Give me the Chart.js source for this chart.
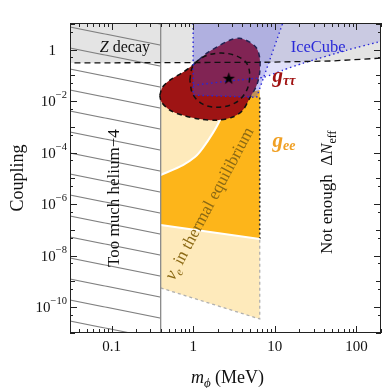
<!DOCTYPE html>
<html>
<head>
<meta charset="utf-8">
<script src="https://cdn.jsdelivr.net/npm/chart.js@4.4.0/dist/chart.umd.min.js"></script>
<style>
  html, body { margin: 0; padding: 0; background: #fff; }
  #grafica { display: block; }
</style>
</head>
<body>
<canvas id="grafica" width="390" height="388"></canvas>
<script>
// rangos de los ejes
const xRange = [0.031, 200];
const yRange = [1e-11, 10.7];

const xTickLabels = [0.1, 1, 10, 100];
const yTickExponents = [0, -2, -4, -6, -8, -10];

// cota de Z decay (linea discontinua)
const zDecayMass = [0.02, 7, 50, 300];
const zDecayCoupling = [0.30, 0.32, 0.36, 0.5];

// helio-4 (zona rayada)
const heliumMass = [0.02, 0.4, 0.4, 0.02];
const heliumCoupling = [1e-12, 1e-12, 100, 100];
const heliumLineMass = [0.4, 0.4];
const heliumLineCoupling = [1e-12, 100];

// g_ee: zona clara
const geeMass = [0.4, 6.54, 6.54, 0.4];
const geeCoupling = [0.012, 0.026, 3.5e-11, 5.6e-10];

// nu_e en equilibrio termico (naranja oscuro)
const thermMass = [0.4, 0.75, 1.05, 1.31, 1.74, 2.12, 2.37, 2.97, 6.54, 6.54, 0.4];
const thermCoupling = [1.35e-5, 3.3e-5, 6.7e-5, 1.5e-4, 5.7e-4, 0.0018, 0.0053, 0.017, 0.026, 4.4e-8, 1.55e-7];
const curveMass = [0.4, 0.75, 1.05, 1.31, 1.74, 2.12, 2.37, 2.6];
const curveCoupling = [1.35e-5, 3.3e-5, 6.7e-5, 1.5e-4, 5.7e-4, 0.0018, 0.0053, 0.01];
const lowerMass = [0.4, 6.54];
const lowerCoupling = [1.55e-7, 4.4e-8];
const bottomMass = [0.4, 6.54, 6.54];
const bottomCoupling = [5.6e-10, 3.5e-11, 4.4e-8];
const edgeMass = [6.54, 6.54];
const edgeCoupling = [4.4e-8, 0.014];

// g_tautau
const blobMass = [0.39, 0.42, 0.52, 0.75, 0.99, 1.47, 1.94, 2.8, 3.72, 4.93, 6.0, 6.54, 6.54, 6.0, 4.93, 4.05, 3.05, 1.94, 1.2, 0.75, 0.52, 0.41, 0.39];
const blobCoupling = [0.0165, 0.034, 0.065, 0.13, 0.25, 0.72, 1.23, 2.29, 2.74, 1.92, 1.12, 0.46, 0.132, 0.041, 0.013, 0.0044, 0.0024, 0.0018, 0.002, 0.0028, 0.0044, 0.0091, 0.0165];
const innerMass = [0.91, 0.99, 1.31, 2.0, 3.23, 4.53, 4.93, 4.40, 3.23, 2.0, 1.31, 0.99, 0.91];
const innerCoupling = [0.065, 0.225, 0.50, 0.72, 0.60, 0.29, 0.084, 0.022, 0.0083, 0.0058, 0.0076, 0.0185, 0.065];
const bestMass = [2.73];
const bestCoupling = [0.077];

// IceCube
const iceAMass = [1, 13.5, 7.31, 6.0, 1];
const iceACoupling = [21, 21, 0.084, 0.014, 0.017];
const iceBMass = [13.5, 300, 300, 181, 75.9, 21.9, 12.5, 7.31];
const iceBCoupling = [21, 21, 3.0, 1.92, 0.94, 0.29, 0.157, 0.084];
const iceShallowMass = [1, 3.0, 7.31, 12.5, 21.9, 75.9, 181, 254];
const iceShallowCoupling = [0.041, 0.062, 0.084, 0.157, 0.29, 0.94, 1.92, 2.5];
const iceSteepMass = [13.5, 7.31, 6.0, 1, 1];
const iceSteepCoupling = [21, 0.084, 0.014, 0.017, 21];

const SERIF = '"Liberation Serif", "DejaVu Serif", serif';
const ctx = document.getElementById("grafica").getContext("2d");

function puntos(xs, ys) {
  return xs.map((x, i) => ({ x: x, y: ys[i] }));
}

function patronRayado() {
  const c = document.createElement("canvas");
  c.width = 105;
  c.height = 21;
  const g = c.getContext("2d");
  g.strokeStyle = "#808080";
  g.lineWidth = 1.2;
  for (const off of [-21, 0, 21]) {
    g.beginPath();
    g.moveTo(0, off);
    g.lineTo(105, off + 21);
    g.stroke();
  }
  const p = ctx.createPattern(c, "repeat");
  p.setTransform(new DOMMatrix().translate(0, 13));
  return p;
}

function estrella() {
  const c = document.createElement("canvas");
  c.width = 15;
  c.height = 15;
  const g = c.getContext("2d");
  g.fillStyle = "#000";
  g.beginPath();
  for (let i = 0; i < 10; i++) {
    const r = i % 2 ? 2.6 : 6.5;
    const a = -Math.PI / 2 + i * Math.PI / 5;
    const px = 7.5 + r * Math.cos(a), py = 8 + r * Math.sin(a);
    if (i) g.lineTo(px, py); else g.moveTo(px, py);
  }
  g.closePath();
  g.fill();
  return c;
}

function capa(xs, ys, opts) {
  return Object.assign({
    data: puntos(xs, ys),
    pointRadius: 0,
    borderWidth: 0,
    borderColor: "rgba(0,0,0,0)",
    fill: false,
    tension: 0
  }, opts);
}

// texto con partes (cursiva, subindices...)
function textoRico(c, partes, x, y, align) {
  let w = 0;
  for (const p of partes) { c.font = p.f; w += c.measureText(p.t).width; }
  let cx = align === "center" ? x - w / 2 : align === "right" ? x - w : x;
  c.textAlign = "left";
  c.textBaseline = "alphabetic";
  for (const p of partes) {
    c.font = p.f;
    c.fillText(p.t, cx, y + (p.dy || 0));
    cx += c.measureText(p.t).width;
  }
}

function rotado(c, partes, x, y, ang, color) {
  c.save();
  c.translate(x, y);
  c.rotate(ang);
  c.fillStyle = color;
  textoRico(c, partes, 0, 0, "center");
  c.restore();
}

const etiquetas = {
  id: "etiquetas",
  afterDatasetsDraw(chart) {
    const c = chart.ctx;
    const { x, y } = chart.scales;
    const X = v => x.getPixelForValue(v), Y = v => y.getPixelForValue(v);
    c.save();
    c.beginPath();
    c.rect(chart.chartArea.left, chart.chartArea.top, chart.chartArea.width, chart.chartArea.height);
    c.clip();

    c.fillStyle = "#111";
    textoRico(c, [{ t: "Z", f: "italic 16px " + SERIF }, { t: " decay", f: "16px " + SERIF }], X(0.146), Y(0.79), "center");

    c.fillStyle = "#2a2ad8";
    textoRico(c, [{ t: "IceCube", f: "16.5px " + SERIF }], X(34), Y(0.79), "center");

    c.fillStyle = "#a01212";
    textoRico(c, [{ t: "g", f: "italic bold 21px " + SERIF }, { t: "ττ", f: "italic bold 14px " + SERIF, dy: 3 }], X(9.4), Y(0.054), "left");

    c.fillStyle = "#f0a024";
    textoRico(c, [{ t: "g", f: "italic bold 21px " + SERIF }, { t: "ee", f: "italic bold 14px " + SERIF, dy: 3 }], X(9.4), Y(1.63e-4), "left");

    rotado(c, [{ t: "Too much helium\u22124", f: "17px " + SERIF }], X(0.104) + 6, Y(1.73e-6), -Math.PI / 2, "#111");
    rotado(c, [{ t: "Not enough  Δ", f: "17px " + SERIF }, { t: "N", f: "italic 17px " + SERIF }, { t: "eff", f: "12px " + SERIF, dy: 4 }],
      X(42) + 6, Y(2.9e-6), -Math.PI / 2, "#111");
    rotado(c, [{ t: "ν", f: "italic 18px " + SERIF }, { t: "e", f: "italic 12px " + SERIF, dy: 4 }, { t: " in thermal equilibrium", f: "17px " + SERIF }],
      X(1.56) + 5, Y(1.1e-6) + 3, -62 * Math.PI / 180, "#8b6914");
    c.restore();
  }
};

const marco = {
  id: "marco",
  afterDraw(chart) {
    const c = chart.ctx;
    const a = chart.chartArea;
    const { x, y } = chart.scales;
    c.save();
    c.strokeStyle = "#222";
    c.lineWidth = 1;
    c.strokeRect(a.left + 0.5, a.top + 0.5, a.width - 1, a.height - 1);

    // marcas eje x
    for (let d = -2; d <= 2; d++) {
      for (let k = 1; k <= 9; k++) {
        const v = k * Math.pow(10, d);
        if (v < xRange[0] || v > xRange[1]) continue;
        const px = Math.round(x.getPixelForValue(v)) + 0.5;
        const len = k === 1 ? 7 : 4;
        c.beginPath();
        c.moveTo(px, a.bottom); c.lineTo(px, a.bottom - len);
        c.moveTo(px, a.top); c.lineTo(px, a.top + len);
        c.stroke();
      }
    }
    // marcas eje y
    for (let e = -11; e <= 1; e++) {
      for (let k = 1; k <= 9; k++) {
        const v = k * Math.pow(10, e);
        if (v < yRange[0] || v > yRange[1]) continue;
        if (k !== 1 && k !== 5) continue;
        const py = Math.round(y.getPixelForValue(v)) + 0.5;
        const len = k === 1 ? (e % 2 === 0 ? 7 : 5) : 3;
        c.beginPath();
        c.moveTo(a.left, py); c.lineTo(a.left + len, py);
        c.moveTo(a.right, py); c.lineTo(a.right - len, py);
        c.stroke();
      }
    }

    c.fillStyle = "#111";
    for (const v of xTickLabels) {
      textoRico(c, [{ t: String(v), f: "15px " + SERIF }], x.getPixelForValue(v), a.bottom + 18, "center");
    }
    for (const e of yTickExponents) {
      const py = y.getPixelForValue(Math.pow(10, e));
      if (e === 0) {
        textoRico(c, [{ t: "1", f: "15px " + SERIF }], a.left - 14, py + 5, "right");
      } else {
        textoRico(c, [{ t: "10", f: "15px " + SERIF }, { t: "\u2212" + Math.abs(e), f: "10.5px " + SERIF, dy: -8 }], a.left - 3, py + 5, "right");
      }
    }

    // titulos
    rotado(c, [{ t: "Coupling", f: "18px " + SERIF }], 23, (a.top + a.bottom) / 2, -Math.PI / 2, "#111");
    c.fillStyle = "#111";
    textoRico(c, [{ t: "m", f: "italic 18px " + SERIF }, { t: "ϕ", f: "italic 13px " + SERIF, dy: 4 }, { t: " (MeV)", f: "18px " + SERIF }],
      (a.left + a.right) / 2 + 2, 383, "center");
    c.restore();
  }
};

const rayado = patronRayado();
const grafica = new Chart(ctx, {
  type: "line",
  data: {
    datasets: [
      capa(zDecayMass, zDecayCoupling, { fill: "end", backgroundColor: "#e4e4e4", order: 100 }),
      capa(heliumMass, heliumCoupling, { fill: "shape", backgroundColor: rayado, order: 90 }),
      capa(geeMass, geeCoupling, { fill: "shape", backgroundColor: "#feeabb", order: 80 }),
      capa(thermMass, thermCoupling, { fill: "shape", backgroundColor: "#fdb51a", order: 75 }),
      capa(curveMass, curveCoupling, { borderColor: "#fff", borderWidth: 2, tension: 0.3, order: 72 }),
      capa(lowerMass, lowerCoupling, { borderColor: "#fff", borderWidth: 2, order: 72 }),
      capa(bottomMass, bottomCoupling, { borderColor: "#b0b0b0", borderWidth: 1.3, borderDash: [3, 3], order: 72 }),
      capa(edgeMass, edgeCoupling, { borderColor: "#333", borderWidth: 1.6, borderDash: [2, 2.5], order: 72 }),
      capa(heliumLineMass, heliumLineCoupling, { borderColor: "#8a8a8a", borderWidth: 1.3, order: 65 }),
      capa(blobMass, blobCoupling, { fill: "shape", backgroundColor: "#9e1414", borderColor: "#111", borderWidth: 1.5, borderDash: [5, 4], tension: 0.3, order: 60 }),
      capa(iceAMass, iceACoupling, { fill: "shape", backgroundColor: "rgba(70,70,215,0.33)", order: 50 }),
      capa(iceBMass, iceBCoupling, { fill: "shape", backgroundColor: "rgba(70,70,215,0.16)", order: 50 }),
      capa(iceShallowMass, iceShallowCoupling, { borderColor: "#2626d9", borderWidth: 1.4, borderDash: [1.5, 3], tension: 0.2, order: 40 }),
      capa(iceSteepMass, iceSteepCoupling, { borderColor: "#2626d9", borderWidth: 1.4, borderDash: [1.5, 3], order: 40 }),
      capa(innerMass, innerCoupling, { borderColor: "#111", borderWidth: 1.5, borderDash: [5, 4], tension: 0.35, order: 35 }),
      capa(zDecayMass, zDecayCoupling, { borderColor: "#111", borderWidth: 1.3, borderDash: [6, 4], order: 30 }),
      capa(bestMass, bestCoupling, { showLine: false, pointRadius: 6, pointStyle: estrella(), order: 0 })
    ]
  },
  options: {
    responsive: false,
    animation: false,
    events: [],
    layout: { padding: { left: 0, right: 9, top: 23, bottom: 0 } },
    plugins: { legend: { display: false }, tooltip: { enabled: false } },
    scales: {
      x: {
        type: "logarithmic", min: xRange[0], max: xRange[1], bounds: "data",
        ticks: { display: false }, grid: { display: false }, border: { display: false },
        afterFit(s) { s.height = 55; }
      },
      y: {
        type: "logarithmic", min: yRange[0], max: yRange[1], bounds: "data",
        ticks: { display: false }, grid: { display: false }, border: { display: false },
        afterFit(s) { s.width = 70; }
      }
    }
  },
  plugins: [etiquetas, marco]
});
</script>
</body>
</html>
